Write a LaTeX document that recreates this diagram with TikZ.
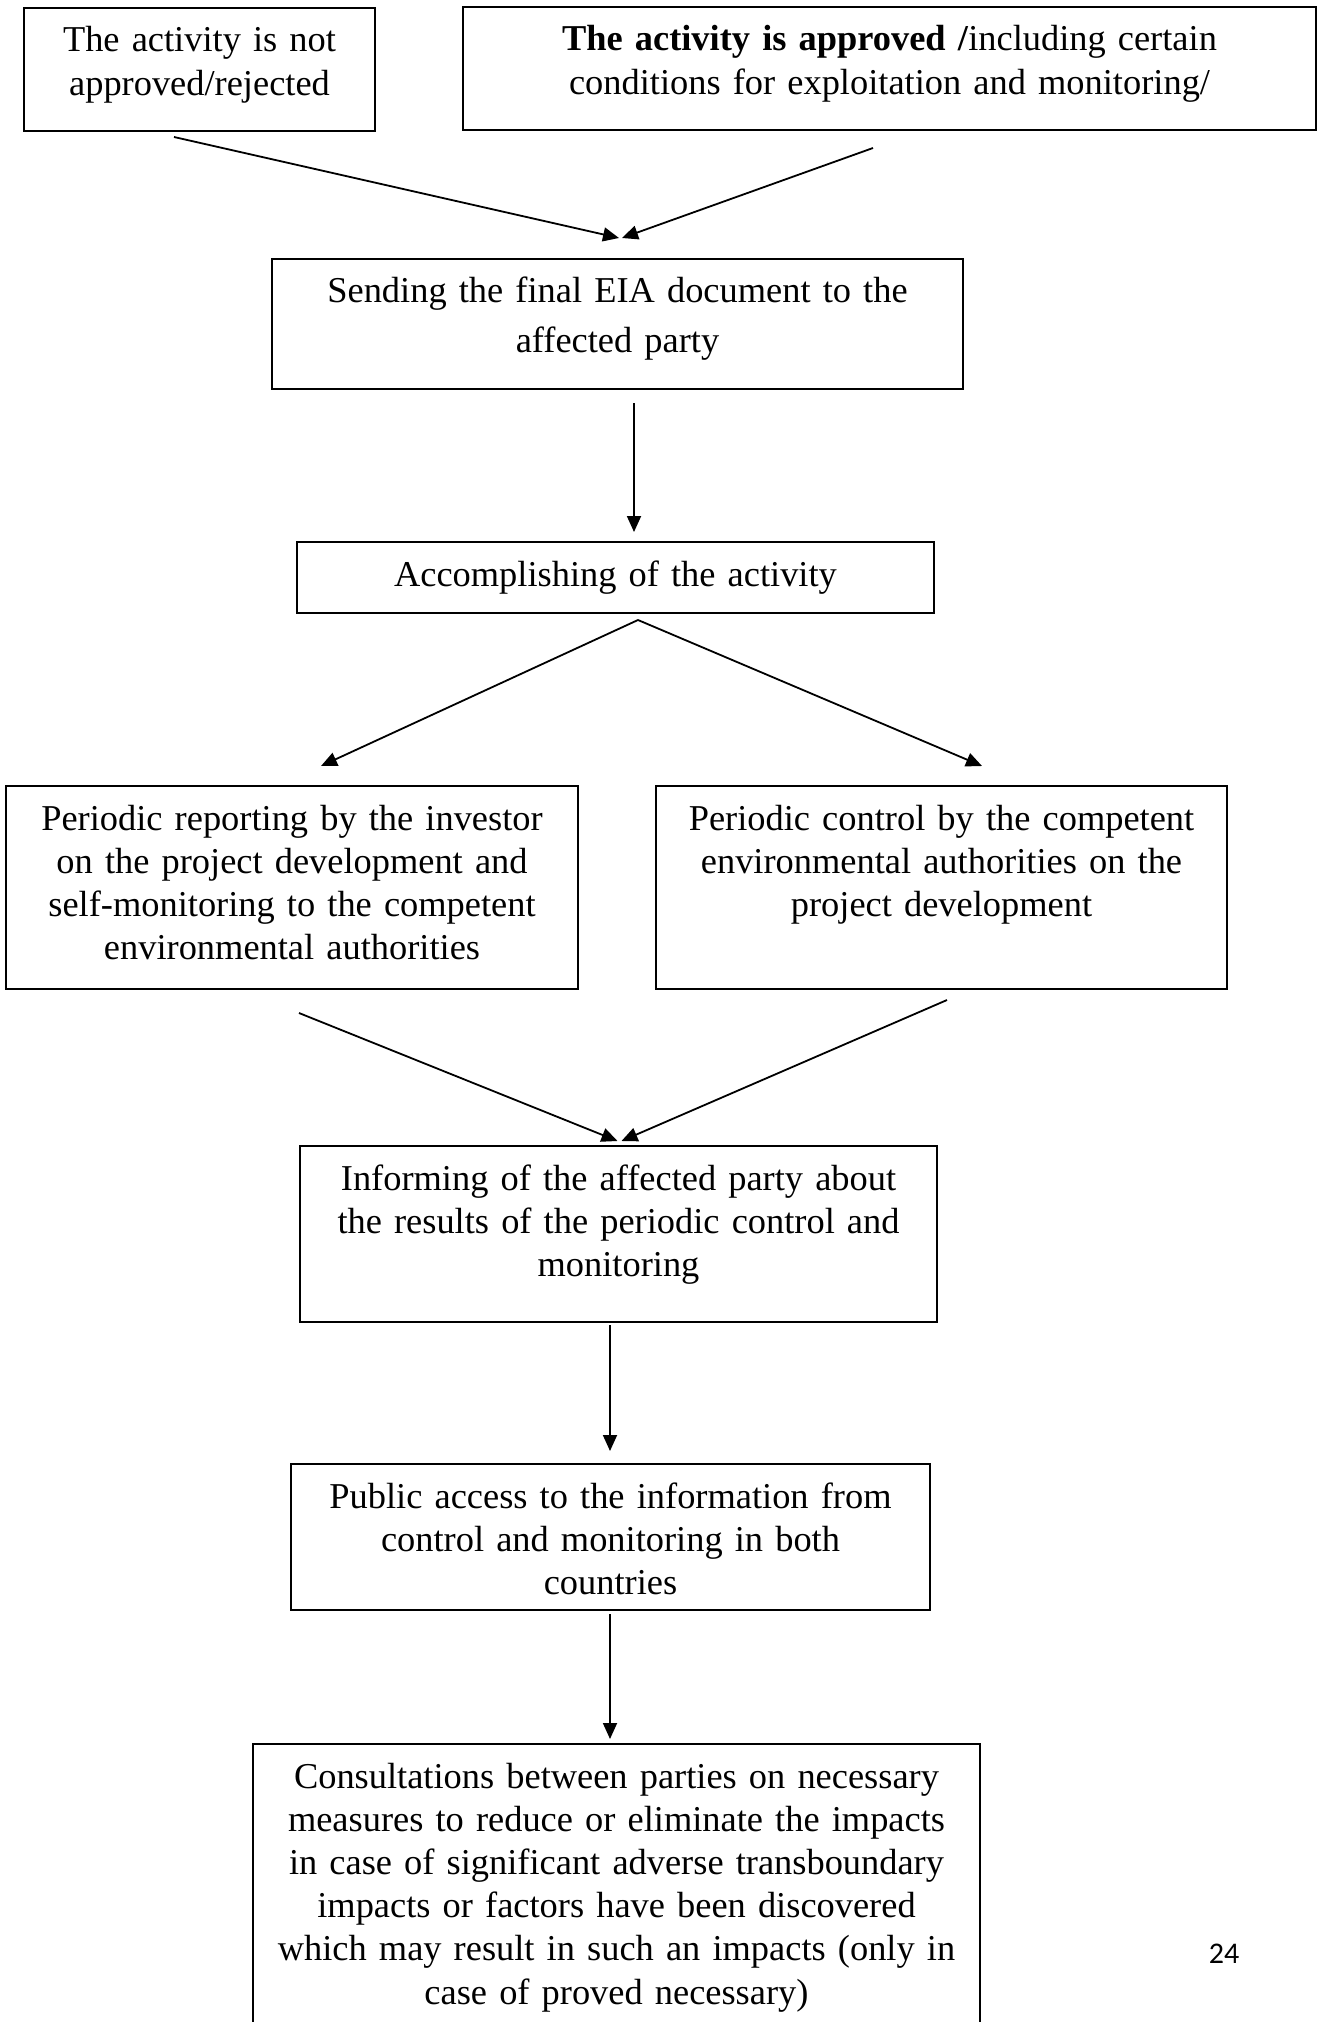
\documentclass[tikz,border=0pt]{standalone}
\usepackage{fontspec}
\setmainfont{Liberation Serif}
\newfontfamily\pagefont{Carlito}
\usetikzlibrary{arrows.meta}
\usetikzlibrary{calc}
\usetikzlibrary{positioning}
\newcommand{\boxfont}{\fontsize{18.2pt}{21.6pt}\selectfont}
\tikzstyle{box} = [draw=black, line width=1pt, anchor=north, align=center, inner sep=0pt, text height=22pt, font=\boxfont]
\tikzstyle{flow} = [line width=0.9pt, -{Triangle[length=8pt, width=7pt]}]
\tikzstyle{pagenum} = [font=\pagefont\fontsize{15pt}{18pt}\selectfont]

\begin{document}
\begin{tikzpicture}[x=0.5pt, y=-0.5pt]

		\useasboundingbox (0,0) rectangle (1318,2022);
		\clip (0,0) rectangle (1318,2022);

		\node (notappr) [box, text width=175.5pt, text depth=39.5pt] at (199.5,7) {The activity is not\\approved/rejected};

		\node (appr) [box, text width=426.5pt, text depth=39.5pt] at (889.5,6) {\textbf{The activity is approved /}including certain\\conditions for exploitation and monitoring/};

		\node (send) [box, text width=345.5pt, text depth=43pt] at (617.5,258) {Sending the final EIA document to the\\[3pt]affected party};

		\node (accomp) [box, below=75.5pt of send.south, xshift=-1pt, text width=318.5pt, text depth=13.5pt] {Accomplishing of the activity};

		\node (report) [box, text width=286pt, text depth=79.5pt] at (292,785) {
			Periodic reporting by the investor\\
			on the project development and\\
			self-monitoring to the competent\\
			environmental authorities
		};

		\node (control) [box, right=38pt of report.north east, anchor=north west, text width=285.5pt, text depth=79.5pt] {
			Periodic control by the competent\\
			environmental authorities on the\\
			project development
		};

		\node (inform) [box, below=265.5pt of accomp.south, xshift=1.5pt, text width=318.5pt, text depth=66pt] {
			Informing of the affected party about\\
			the results of the periodic control and\\
			monitoring
		};

		\node (public) [box, below=70pt of inform.south, xshift=-4pt, text width=319.5pt, text depth=51pt] {
			Public access to the information from\\
			control and monitoring in both\\
			countries
		};

		\node (consult) [box, below=66pt of public.south, xshift=3pt, text width=363.5pt, text depth=130.5pt] {
			Consultations between parties on necessary\\
			measures to reduce or eliminate the impacts\\
			in case of significant adverse transboundary\\
			impacts or factors have been discovered\\
			which may result in such an impacts (only in\\
			case of proved necessary)
		};

		\node (page) [pagenum] at (1224,1954) {24};

		\draw [flow] ($(notappr.south)+(-25.5,5)$) -- ($(send.north)+(1.5,-20)$);
		\draw [flow] ($(appr.south)+(-16.5,17)$) -- ($(send.north)+(4.5,-20)$);
		\draw [flow] ($(send.south)+(16.5,13)$) -- ($(accomp.north)+(18.5,-9)$);
		\draw [flow] ($(accomp.south)+(22.5,6)$) -- ($(report.north)+(29,-19)$);
		\draw [flow] ($(accomp.south)+(22.5,6)$) -- ($(control.north)+(40.5,-19)$);
		\draw [flow] ($(report.south)+(7,23)$) -- ($(inform.north)+(-1,-4)$);
		\draw [flow] ($(control.south)+(5.5,10)$) -- ($(inform.north)+(3,-4)$);
		\draw [flow] ($(inform.south)+(-8.5,2)$) -- ($(public.north)+(-0.5,-12)$);
		\draw [flow] ($(public.south)+(-0.5,3)$) -- ($(consult.north)+(-6.5,-4)$);

	\end{tikzpicture}
\end{document}
